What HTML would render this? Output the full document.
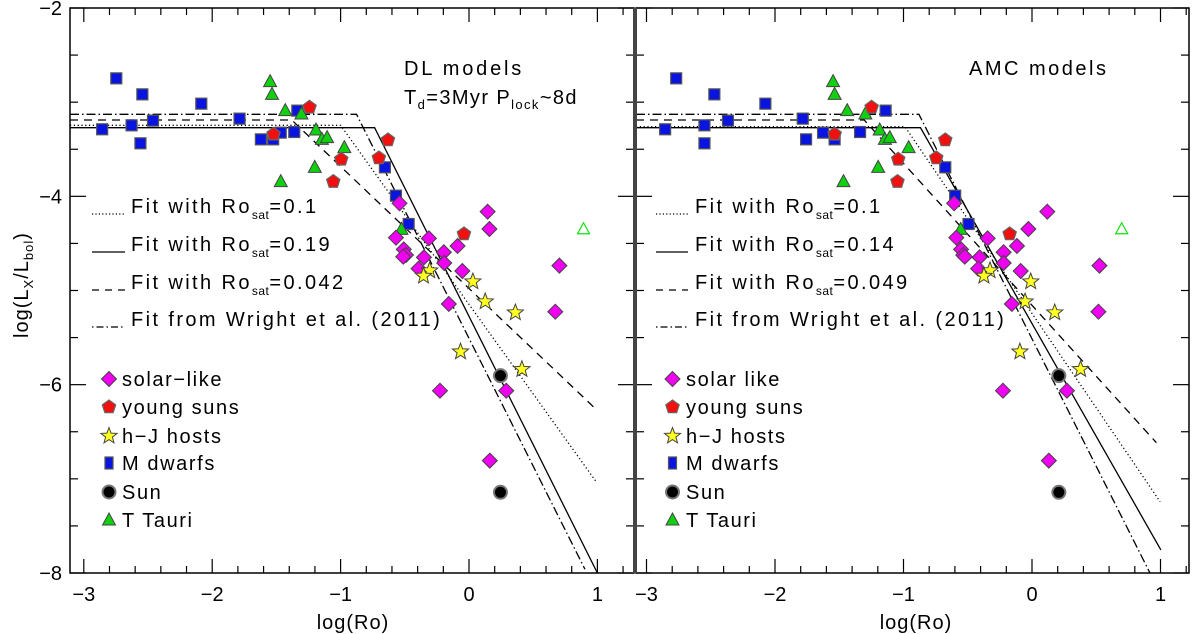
<!DOCTYPE html>
<html><head><meta charset="utf-8">
<style>
html,body{margin:0;padding:0;background:#fff;}
svg{display:block;font-family:"Liberation Sans","DejaVu Sans",sans-serif;}
</style></head>
<body>
<svg id="chart" width="1200" height="634" viewBox="0 0 1200 634" xmlns="http://www.w3.org/2000/svg"></svg>
<script>
// ---------- data ----------
const mdwarfL_x=[-2.747,-2.544,-2.085,-2.857,-2.628,-2.461,-2.559,-1.787,-1.621,-1.525,-1.466,-1.361,-1.337,-0.655,-0.569,-0.470];
const mdwarfR_x=[-2.769,-2.472,-2.075,-2.855,-2.549,-2.366,-2.549,-1.784,-1.758,-1.626,-1.536,-1.338,-1.139,-0.675,-0.598,-0.494];
const mdwarf_y=[-2.747,-2.917,-3.016,-3.288,-3.246,-3.196,-3.437,-3.175,-3.395,-3.324,-3.395,-3.317,-3.090,-3.692,-3.993,-4.294];
const mdwarfL_y=[-2.747,-2.917,-3.016,-3.288,-3.246,-3.196,-3.437,-3.175,-3.395,-3.395,-3.324,-3.317,-3.090,-3.692,-3.993,-4.294];
const ttauriL_x=[-1.549,-1.534,-1.431,-1.305,-1.192,-1.146,-1.105,-0.971,-1.201,-1.466,-0.526];
const ttauriR_x=[-1.548,-1.536,-1.438,-1.297,-1.185,-1.145,-1.107,-0.960,-1.197,-1.467,-0.555];
const ttauri_y=[-2.782,-2.917,-3.090,-3.126,-3.296,-3.395,-3.377,-3.483,-3.692,-3.844,-4.351];
const ttauriOpenL=[0.892,-4.344];
const ttauriOpenR=[0.698,-4.344];
const youngL_x=[-1.242,-1.522,-0.631,-0.702,-0.995,-1.057,-0.039];
const youngR_x=[-1.248,-1.536,-0.675,-0.745,-1.041,-1.047,-0.174];
const young_y=[-3.055,-3.341,-3.402,-3.593,-3.607,-3.844,-4.400];
const solarL_x=[-0.541,0.145,0.159,-0.569,-0.312,-0.508,-0.491,-0.512,-0.089,-0.196,-0.351,-0.193,-0.393,-0.052,0.704,-0.157,0.672,-0.226,0.290,0.162];
const solarR_x=[-0.606,0.119,-0.028,-0.589,-0.345,-0.552,-0.535,-0.523,-0.117,-0.221,-0.408,-0.221,-0.419,-0.088,0.525,-0.157,0.517,-0.226,0.272,0.131];
const solar_y=[-4.074,-4.163,-4.347,-4.439,-4.446,-4.563,-4.623,-4.641,-4.527,-4.594,-4.648,-4.708,-4.768,-4.793,-4.736,-5.143,-5.225,-6.064,-6.064,-6.807];
const hjL_x=[-0.306,-0.354,0.030,0.126,0.361,-0.066,0.412];
const hjR_x=[-0.327,-0.374,-0.010,-0.054,0.177,-0.094,0.378];
const hj_y=[-4.789,-4.846,-4.906,-5.118,-5.235,-5.650,-5.837];
const sunL_x=[0.245,0.245];
const sunR_x=[0.209,0.209];
const sun_y=[-5.904,-7.143];
// fits: [level, breakX, endX, endY]
const fitsL_dotted=[-3.246,-1.0,0.99,-7.03];
const fitsL_solid=[-3.271,-0.735,1.0,-8.0];
const fitsL_dashed=[-3.189,-1.381,0.99,-6.262];
const fitsL_wright=[-3.129,-0.876,0.903,-7.96];
const fitsR_dotted=[-3.26,-0.989,0.997,-7.243];
const fitsR_solid=[-3.271,-0.868,1.003,-7.755];
const fitsR_dashed=[-3.189,-1.306,0.968,-6.616];
const fitsR_wright=[-3.129,-0.880,0.917,-7.997];
const xTicks=[-3,-2,-1,0,1];
const yTicks=[-2,-4,-6,-8];

// ---------- helpers ----------
const NS="http://www.w3.org/2000/svg";
const svg=document.getElementById('chart');
function el(tag,attrs,parent){const e=document.createElementNS(NS,tag);for(const k in attrs)e.setAttribute(k,attrs[k]);(parent||svg).appendChild(e);return e;}
const Y0=8,Y1=573;
function yS(v){return Y0+(-2-v)*(Y1-Y0)/6;}
const panels=[
 {name:'left',L:70,R:634,x0:469,u:128.4},
 {name:'right',L:636,R:1189,x0:1032,u:128.5}
];
function xS(p,v){return p.x0+v*p.u;}

function marker(g,type,cx,cy){
  let m;
  if(type==='square'){m=el('rect',{x:cx-5.5,y:cy-5.5,width:11,height:11,fill:'#0a14e0',stroke:'#555','stroke-width':1.2},g);}
  else if(type==='diamond'){m=el('polygon',{points:`${cx},${cy-7.5} ${cx+7.5},${cy} ${cx},${cy+7.5} ${cx-7.5},${cy}`,fill:'#f000f0',stroke:'#444','stroke-width':1},g);}
  else if(type==='tri'){m=el('polygon',{points:`${cx},${cy-7} ${cx+6.5},${cy+5} ${cx-6.5},${cy+5}`,fill:'#10d010',stroke:'#444','stroke-width':1},g);}
  else if(type==='triopen'){m=el('polygon',{points:`${cx},${cy-6} ${cx+6},${cy+5} ${cx-6},${cy+5}`,fill:'none',stroke:'#10e010','stroke-width':1.2},g);}
  else if(type==='pent'){let pts=[];for(let i=0;i<5;i++){const a=-Math.PI/2+i*2*Math.PI/5;pts.push((cx+7*Math.cos(a)).toFixed(1)+','+(cy+7*Math.sin(a)).toFixed(1));}
    m=el('polygon',{points:pts.join(' '),fill:'#f01010',stroke:'#666','stroke-width':1.2},g);}
  else if(type==='star'){let pts=[];for(let i=0;i<10;i++){const r=i%2?3.6:8.5;const a=-Math.PI/2+i*Math.PI/5;pts.push((cx+r*Math.cos(a)).toFixed(1)+','+(cy+r*Math.sin(a)).toFixed(1));}
    m=el('polygon',{points:pts.join(' '),fill:'#ffff20',stroke:'#444','stroke-width':1},g);}
  else if(type==='sun'){m=el('circle',{cx:cx,cy:cy,r:6.5,fill:'#000',stroke:'#777','stroke-width':2},g);}
  return m;
}

const dashes={dotted:'1.2 2.6',solid:'none',dashed:'8 6',wright:'9 3 1.5 3'};

panels.forEach((p,pi)=>{
  const g=el('g',{});
  
  
  const clipId='clip'+pi;
  const cp=el('clipPath',{id:clipId},g);el('rect',{x:p.L,y:Y0,width:p.R-p.L,height:Y1-Y0},cp);
  const fr=el('rect',{x:p.L,y:Y0,width:p.R-p.L,height:Y1-Y0,fill:'none',stroke:'#000','stroke-width':1.5},g);
  
  
  const xmin=(p.L-p.x0)/p.u, xmax=(p.R-p.x0)/p.u;
  for(let t=Math.ceil(xmin*5);t<=Math.floor(xmax*5);t++){
    const v=t/5,x=xS(p,v),maj=(t%5===0),len=maj?14:7;
    el('line',{x1:x,y1:Y1,x2:x,y2:Y1-len,stroke:'#000','stroke-width':1.2},g);
    el('line',{x1:x,y1:Y0,x2:x,y2:Y0+len,stroke:'#000','stroke-width':1.2},g);
  }
  xTicks.forEach(v=>{
    const t=el('text',{x:xS(p,v),y:601,'text-anchor':'middle','font-size':20},g);
    t.textContent=(v<0?'\u2212':'')+Math.abs(v);
    
    
  });
  for(let t=-16;t<=-4;t++){
    const v=t/2,y=yS(v),maj=(t%4===0),len=maj?16:8;
    el('line',{x1:p.L,y1:y,x2:p.L+len,y2:y,stroke:'#000','stroke-width':1.2},g);
    el('line',{x1:p.R,y1:y,x2:p.R-len,y2:y,stroke:'#000','stroke-width':1.2},g);
  }
  const xl=el('text',{x:pi?916:353,y:629,'text-anchor':'middle','font-size':20,'letter-spacing':1},g);
  xl.textContent='log(Ro)';
  
  

  const fits=pi?{dotted:fitsR_dotted,solid:fitsR_solid,dashed:fitsR_dashed,wright:fitsR_wright}
               :{dotted:fitsL_dotted,solid:fitsL_solid,dashed:fitsL_dashed,wright:fitsL_wright};
  for(const k in fits){
    const f=fits[k];
    const d=`M${p.L},${yS(f[0])} L${xS(p,f[1])},${yS(f[0])} L${xS(p,f[2])},${yS(f[3])}`;
    const path=el('path',{d:d,fill:'none',stroke:'#000','stroke-width':1.3,'stroke-dasharray':dashes[k],'clip-path':`url(#${clipId})`},g);
    
    
  }
  const sets=[
    ['square',pi?mdwarfR_x:mdwarfL_x,pi?mdwarf_y:mdwarfL_y,'m-dwarf-point'],
    ['tri',pi?ttauriR_x:ttauriL_x,ttauri_y,'t-tauri-point'],
    ['pent',pi?youngR_x:youngL_x,young_y,'young-sun-point'],
    ['diamond',pi?solarR_x:solarL_x,solar_y,'solar-like-point'],
    ['star',pi?hjR_x:hjL_x,hj_y,'hj-host-point'],
    ['sun',pi?sunR_x:sunL_x,sun_y,'sun-point']
  ];
  sets.forEach(s=>{
    s[1].forEach((xv,i)=>{
      const m=marker(g,s[0],xS(p,xv),yS(s[2][i]));
      
      
    });
  });
  const op=pi?ttauriOpenR:ttauriOpenL;
  const mo=marker(g,'triopen',xS(p,op[0]),yS(op[1]));
  
  

  const lx1=pi?656:92, lx2=pi?688:125, tx=pi?695:131;
  const fitLabels=pi?[['dotted','0.1'],['solid','0.14'],['dashed','0.049']]:[['dotted','0.1'],['solid','0.19'],['dashed','0.042']];
  const ly=[214,252,290,327];
  fitLabels.forEach((fl,i)=>{
    const lg=el('g',{},g);
    
    
    el('line',{x1:lx1,y1:ly[i],x2:lx2,y2:ly[i],stroke:'#000','stroke-width':1.2,'stroke-dasharray':fl[0]==='dotted'?'1.2 2.2':(fl[0]==='dashed'?'7 6':'none')},lg);
    const t=el('text',{x:tx,y:ly[i]-1,'font-size':20,'letter-spacing':2.4},lg);
    t.innerHTML=`Fit with Ro<tspan font-size="12" dy="6" letter-spacing="0.5">sat</tspan><tspan dy="-6">=${fl[1]}</tspan>`;
  });
  const wl=el('g',{},g);
  
  
  el('line',{x1:lx1,y1:ly[3],x2:lx2,y2:ly[3],stroke:'#000','stroke-width':1.2,'stroke-dasharray':'1.5 3 7 3'},wl);
  const wt=el('text',{x:tx,y:ly[3]-1,'font-size':20,'letter-spacing':2.4},wl);
  wt.textContent='Fit from Wright et al. (2011)';

  const mx=pi?672.5:109, stx=pi?686:122;
  const syms=[['diamond',pi?'solar like':'solar\u2212like'],['pent','young suns'],['star','h\u2212J hosts'],['square','M dwarfs'],['sun','Sun'],['tri','T Tauri']];
  const sy=[379,407,436,463,492,520];
  syms.forEach((s,i)=>{
    const lg=el('g',{},g);
    
    
    const m=marker(lg,s[0],mx,sy[i]);
    if(s[0]==='square'){m.setAttribute('x',mx-4);m.setAttribute('y',sy[i]-6);m.setAttribute('width',8);m.setAttribute('height',12);}
    const t=el('text',{x:stx,y:sy[i]+7,'font-size':20,'letter-spacing':1.6},lg);
    t.textContent=s[1];
  });
  if(pi===0){
    const t1=el('text',{x:404,y:75,'font-size':20,'letter-spacing':2.8},g);
    t1.textContent='DL models';
    
    
    const t2=el('text',{x:404,y:104,'font-size':20,'letter-spacing':1.4},g);
    t2.innerHTML='T<tspan font-size="13" dy="5">d</tspan><tspan dy="-5">=3Myr P</tspan><tspan font-size="13" dy="5">lock</tspan><tspan dy="-5">~8d</tspan>';
    
    
  } else {
    const t1=el('text',{x:969,y:75,'font-size':20,'letter-spacing':2.5},g);
    t1.textContent='AMC models';
    
    
  }
});
const dv=el('rect',{x:633,y:Y0,width:4,height:Y1-Y0,fill:'#444'});


yTicks.forEach(v=>{
  const t=el('text',{x:62,y:yS(v)+7,'text-anchor':'end','font-size':20});
  t.textContent='\u2212'+Math.abs(v);
  
  
});
const yt=el('text',{x:0,y:0,'text-anchor':'middle','font-size':20,'letter-spacing':1,transform:'translate(28,285) rotate(-90)'});
yt.innerHTML='log(L<tspan font-size="13" dy="5">X</tspan><tspan dy="-5">/L</tspan><tspan font-size="13" dy="5">bol</tspan><tspan dy="-5">)</tspan>';


</script>
</body></html>
